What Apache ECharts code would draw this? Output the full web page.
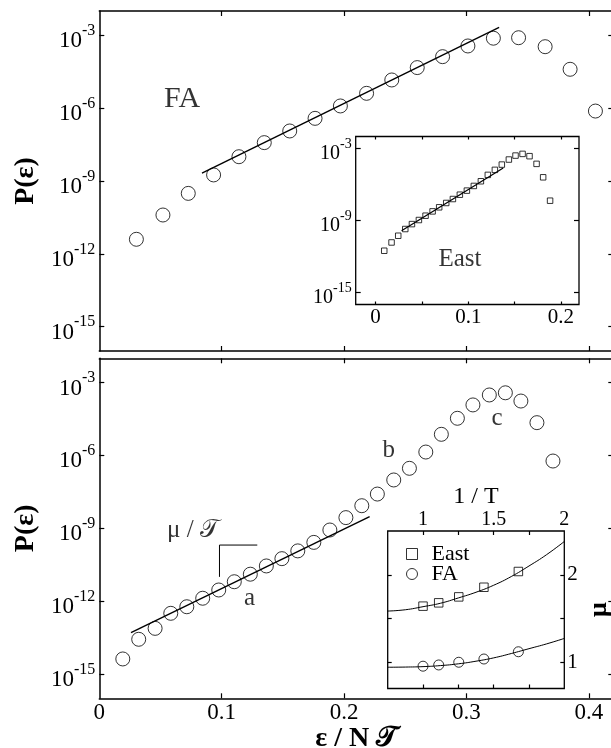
<!DOCTYPE html>
<html>
<head>
<meta charset="utf-8">
<script src="https://cdn.jsdelivr.net/npm/echarts@6/dist/echarts.min.js"></script>
<style>
html,body{margin:0;padding:0;background:#fff;}
#c{width:611px;height:748px;}
</style>
</head>
<body>
<div id="c"></div>
<script>
// ---------- data (y values are log10 P(eps)) ----------
const mainXLabels = [0, 0.1, 0.2, 0.3, 0.4];
const mainXTicks = [0.1, 0.2, 0.3, 0.4];
const logTicks = [-15, -12, -9, -6, -3];

// top panel: FA
const faTopX    = [0.0303, 0.052, 0.0727, 0.0934, 0.1141, 0.1348, 0.1556, 0.1763, 0.197, 0.2184, 0.239, 0.2598, 0.2805, 0.3012, 0.322, 0.3426, 0.3643, 0.3847, 0.4054];
const faTopLogP = [-11.40, -10.40, -9.51, -8.75, -8.00, -7.42, -6.94, -6.42, -5.91, -5.39, -4.84, -4.33, -3.88, -3.44, -3.12, -3.10, -3.47, -4.40, -6.12];
const faTopFitX = [0.0839, 0.3267];
const faTopFitLogP = [-8.68, -2.67];

// top inset: East
const insetXTicks = [0, 0.05, 0.1, 0.15, 0.2];
const insetXLabels = [0, 0.1, 0.2];
const insetLogTicks = [-15, -9, -3];
const eastX    = [0.0093, 0.0172, 0.0244, 0.0320, 0.0392, 0.0467, 0.0539, 0.0615, 0.0686, 0.0762, 0.0834, 0.0909, 0.0985, 0.106, 0.1136, 0.1211, 0.1287, 0.1362, 0.1438, 0.151, 0.1586, 0.1661, 0.1737, 0.1808, 0.1883];
const eastLogP = [-11.52, -10.83, -10.27, -9.71, -9.30, -8.96, -8.60, -8.24, -7.90, -7.54, -7.21, -6.85, -6.51, -6.12, -5.73, -5.20, -4.78, -4.34, -3.92, -3.59, -3.45, -3.64, -4.28, -5.40, -7.35];
const eastFitX = [0.028, 0.1377];
const eastFitLogP = [-9.85, -4.62];

// bottom panel: FA
const faBotX    = [0.0192, 0.0322, 0.0456, 0.0584, 0.0715, 0.0845, 0.0976, 0.1103, 0.1234, 0.1365, 0.1492, 0.1622, 0.1753, 0.1884, 0.2015, 0.2145, 0.2272, 0.2406, 0.2534, 0.2668, 0.2795, 0.2926, 0.3053, 0.3187, 0.3318, 0.3445, 0.3576, 0.3707];
const faBotLogP = [-14.38, -13.57, -13.12, -12.50, -12.23, -11.88, -11.54, -11.20, -10.89, -10.55, -10.25, -9.93, -9.58, -9.07, -8.56, -8.07, -7.59, -7.01, -6.53, -5.86, -5.13, -4.47, -3.92, -3.51, -3.42, -3.76, -4.65, -6.23];
const faBotFitX = [0.0259, 0.2209];
const faBotFitLogP = [-13.30, -8.52];
const slopeMarkX = [0.1291, 0.0982, 0.0982];
const slopeMarkLogP = [-9.69, -9.69, -11.0];

// bottom inset: mu vs 1/T
const invTTicks = [1, 1.25, 1.5, 1.75];
const invTLabels = [1, 1.5, 2];
const muTicks = [1, 1.5, 2];
const muLabels = [1, 2];
const invT   = [1.0, 1.111, 1.253, 1.431, 1.675];
const muEast = [1.641, 1.679, 1.747, 1.857, 2.037];
const muFA   = [0.955, 0.969, 1.0, 1.037, 1.12];
const curveInvT  = [0.75, 0.875, 1.0, 1.125, 1.25, 1.375, 1.5, 1.625, 1.75, 1.875, 2.0];
const curveEast  = [1.585, 1.60, 1.635, 1.675, 1.735, 1.80, 1.88, 1.98, 2.10, 2.23, 2.38];
const curveFA    = [0.943, 0.945, 0.95, 0.962, 0.982, 1.012, 1.05, 1.10, 1.155, 1.21, 1.272];

// annotations (text, x, log10 P)
const annotTopText = ['FA'];      const annotTopX = [0.0676];  const annotTopLogP = [-5.62];
const annotInsetText = ['East'];  const annotInsetX = [0.091]; const annotInsetLogP = [-12.22];
const annotBotText = ['a', 'b', 'c', 'μ / 𝒯'];
const annotBotX    = [0.1227, 0.2365, 0.3251, 0.0766];
const annotBotLogP = [-11.88, -5.78, -4.47, -9.07];

// ---------- chart ----------
const SERIF = "'Liberation Serif', 'DejaVu Serif', serif";
const zip = (a, b) => a.map((v, i) => [v, b[i]]);
const tick = (vals, len) => ({show: true, inside: true, length: len, customValues: vals, lineStyle: {color: '#000', width: 1.2}});
const noLabel = {show: false};
const frameLine = (w) => ({show: w > 0, onZero: false, lineStyle: {color: '#000', width: w}});
const noLine = {show: false, onZero: false};
const pow10 = (fs, ss) => ({
  show: true, color: '#000',
  formatter: v => '{b|10}{s|' + v + '}',
  rich: {
    b: {fontSize: fs, fontFamily: SERIF, color: '#000', padding: [Math.round(fs * 0.5), 0, 0, 0]},
    s: {fontSize: ss, fontFamily: SERIF, color: '#000', verticalAlign: 'top', padding: [Math.round(fs * 0.2), 0, 0, 0]}
  }
});
function yLog(grid, labels, ticks, fs, ss, line, extra) {
  const lab = labels ? Object.assign(pow10(fs, ss), {customValues: ticks, margin: 4}) : noLabel;
  return Object.assign({type: 'value', gridIndex: grid, min: -16, max: -2, axisLine: line,
    splitLine: {show: false}, axisTick: tick(ticks, 5), axisLabel: lab}, extra || {});
}
const hollow = {color: 'rgba(0,0,0,0)', borderColor: '#000', borderWidth: 1};
const annot = (name, xi, yi, xs, ys, txt, fs, extra) => ({
  type: 'scatter', name: name, xAxisIndex: xi, yAxisIndex: yi, symbolSize: 1, silent: true,
  itemStyle: {color: 'rgba(0,0,0,0)'},
  label: Object.assign({show: true, position: 'inside', formatter: p => p.name, fontSize: fs, fontFamily: SERIF, color: '#000'}, extra || {}),
  data: txt.map((t, i) => ({name: t, value: [xs[i], ys[i]]}))
});

const option = {
  backgroundColor: '#fff',
  animation: false,
  grid: [
    {left: 99.3, top: 11, width: 514, height: 340, show: false, containLabel: false, outerBoundsMode: 'none'},
    {left: 99.3, top: 358.3, width: 514, height: 340, show: false, containLabel: false, outerBoundsMode: 'none'},
    {left: 355.7, top: 136.5, width: 223.3, height: 168, show: true, borderColor: '#000', borderWidth: 1.3, backgroundColor: '#fff', containLabel: false, outerBoundsMode: 'none'},
    {left: 387.7, top: 531, width: 176.6, height: 157.5, show: true, borderColor: '#000', borderWidth: 1.3, backgroundColor: '#fff', containLabel: false, outerBoundsMode: 'none'}
  ],
  legend: {
    left: 401, top: 538, orient: 'vertical', itemGap: -2, itemWidth: 11, itemHeight: 11,
    selectedMode: false,
    textStyle: {fontSize: 22, fontFamily: SERIF, color: '#000', padding: [0, 0, 0, 9]},
    data: [
      {name: 'East', icon: 'rect', itemStyle: hollow},
      {name: 'FA', icon: 'circle', itemStyle: hollow}
    ]
  },
  xAxis: [
    {type: 'value', gridIndex: 0, min: 0, max: 0.42, position: 'bottom', axisLine: frameLine(1.5), splitLine: {show: false}, axisTick: tick(mainXTicks, 5), axisLabel: noLabel},
    {type: 'value', gridIndex: 0, min: 0, max: 0.42, position: 'top', axisLine: frameLine(1.5), splitLine: {show: false}, axisTick: tick(mainXTicks, 5), axisLabel: noLabel},
    {type: 'value', gridIndex: 1, min: 0, max: 0.42, position: 'bottom', axisLine: frameLine(1.5), splitLine: {show: false}, axisTick: tick(mainXTicks, 5),
      axisLabel: {show: true, customValues: mainXLabels, margin: 3, fontSize: 23, fontFamily: SERIF, color: '#000'},
      name: 'ε / N 𝒯', nameLocation: 'middle', nameGap: 26, nameTextStyle: {fontSize: 28, fontWeight: 'bold', fontFamily: SERIF, color: '#000'}},
    {type: 'value', gridIndex: 1, min: 0, max: 0.42, position: 'top', axisLine: frameLine(1.5), splitLine: {show: false}, axisTick: tick(mainXTicks, 5), axisLabel: noLabel},
    {type: 'value', gridIndex: 2, min: -0.0215, max: 0.2195, position: 'bottom', axisLine: noLine, splitLine: {show: false}, axisTick: tick(insetXTicks, 3),
      axisLabel: {show: true, customValues: insetXLabels, margin: 2, fontSize: 21, fontFamily: SERIF, color: '#000'}},
    {type: 'value', gridIndex: 2, min: -0.0215, max: 0.2195, position: 'top', axisLine: noLine, splitLine: {show: false}, axisTick: tick(insetXTicks, 3), axisLabel: noLabel},
    {type: 'value', gridIndex: 3, min: 0.75, max: 2, position: 'bottom', axisLine: noLine, splitLine: {show: false}, axisTick: tick(invTTicks, 4), axisLabel: noLabel},
    {type: 'value', gridIndex: 3, min: 0.75, max: 2, position: 'top', axisLine: noLine, splitLine: {show: false}, axisTick: tick(invTTicks, 4),
      axisLabel: {show: true, customValues: invTLabels, margin: 1, fontSize: 20, fontFamily: SERIF, color: '#000'},
      name: '1 / T', nameLocation: 'middle', nameGap: 22, nameTextStyle: {fontSize: 24, fontFamily: SERIF, color: '#000'}}
  ],
  yAxis: [
    yLog(0, true, logTicks, 23, 16, frameLine(1.5), {position: 'left', name: 'P(ε)', nameLocation: 'middle', nameGap: 58, nameTextStyle: {fontSize: 28, fontWeight: 'bold', fontFamily: SERIF, color: '#000'}}),
    yLog(0, false, logTicks, 23, 16, noLine, {position: 'right'}),
    yLog(1, true, logTicks, 23, 16, frameLine(1.5), {position: 'left', name: 'P(ε)', nameLocation: 'middle', nameGap: 58, nameTextStyle: {fontSize: 28, fontWeight: 'bold', fontFamily: SERIF, color: '#000'}}),
    yLog(1, false, logTicks, 23, 16, noLine, {position: 'right'}),
    yLog(2, true, insetLogTicks, 20, 14, noLine, {position: 'left'}),
    yLog(2, false, insetLogTicks, 20, 14, noLine, {position: 'right'}),
    {type: 'value', gridIndex: 3, min: 0.7, max: 2.5, position: 'left', axisLine: noLine, splitLine: {show: false}, axisTick: tick(muTicks, 4), axisLabel: noLabel},
    {type: 'value', gridIndex: 3, min: 0.7, max: 2.5, position: 'right', axisLine: noLine, splitLine: {show: false}, axisTick: tick(muTicks, 4),
      axisLabel: {show: true, customValues: muLabels, margin: 3, fontSize: 21, fontFamily: SERIF, color: '#000'},
      name: 'μ', nameLocation: 'middle', nameGap: 22, nameTextStyle: {fontSize: 26, fontWeight: 'bold', fontFamily: SERIF, color: '#000'}}
  ],
  series: [
    {type: 'line', name: 'FA fit (top)', xAxisIndex: 0, yAxisIndex: 0, showSymbol: false, symbol: 'none', lineStyle: {color: '#000', width: 1.4}, data: zip(faTopFitX, faTopFitLogP), z: 3},
    {type: 'scatter', name: 'FA (top)', xAxisIndex: 0, yAxisIndex: 0, symbol: 'circle', symbolSize: 14, itemStyle: hollow, data: zip(faTopX, faTopLogP), z: 4},
    {type: 'line', name: 'East fit', xAxisIndex: 4, yAxisIndex: 4, showSymbol: false, symbol: 'none', lineStyle: {color: '#000', width: 1.2}, data: zip(eastFitX, eastFitLogP), z: 3},
    {type: 'scatter', name: 'East (inset)', xAxisIndex: 4, yAxisIndex: 4, symbol: 'rect', symbolSize: 5.5, itemStyle: hollow, data: zip(eastX, eastLogP), z: 4},
    {type: 'line', name: 'FA fit (bottom)', xAxisIndex: 2, yAxisIndex: 2, showSymbol: false, symbol: 'none', lineStyle: {color: '#000', width: 1.4}, data: zip(faBotFitX, faBotFitLogP), z: 3},
    {type: 'line', name: 'slope mark', xAxisIndex: 2, yAxisIndex: 2, showSymbol: false, symbol: 'none', lineStyle: {color: '#000', width: 1}, data: zip(slopeMarkX, slopeMarkLogP), z: 3},
    {type: 'scatter', name: 'FA (bottom)', xAxisIndex: 2, yAxisIndex: 2, symbol: 'circle', symbolSize: 14, itemStyle: hollow, data: zip(faBotX, faBotLogP), z: 4},
    {type: 'line', name: 'East curve', xAxisIndex: 6, yAxisIndex: 7, smooth: true, showSymbol: false, symbol: 'none', lineStyle: {color: '#000', width: 1}, data: zip(curveInvT, curveEast), z: 3},
    {type: 'line', name: 'FA curve', xAxisIndex: 6, yAxisIndex: 7, smooth: true, showSymbol: false, symbol: 'none', lineStyle: {color: '#000', width: 1}, data: zip(curveInvT, curveFA), z: 3},
    {type: 'scatter', name: 'East', xAxisIndex: 6, yAxisIndex: 7, symbol: 'rect', symbolSize: 8.5, itemStyle: hollow, data: zip(invT, muEast), z: 4},
    {type: 'scatter', name: 'FA', xAxisIndex: 6, yAxisIndex: 7, symbol: 'circle', symbolSize: 10, itemStyle: hollow, data: zip(invT, muFA), z: 4},
    annot('annot top', 0, 0, annotTopX, annotTopLogP, annotTopText, 30),
    annot('annot inset', 4, 4, annotInsetX, annotInsetLogP, annotInsetText, 25),
    annot('annot bottom', 2, 2, annotBotX, annotBotLogP, annotBotText, 25)
  ]
};
const chart = echarts.init(document.getElementById('c'), null, {renderer: 'canvas'});
chart.setOption(option);
</script>
</body>
</html>
